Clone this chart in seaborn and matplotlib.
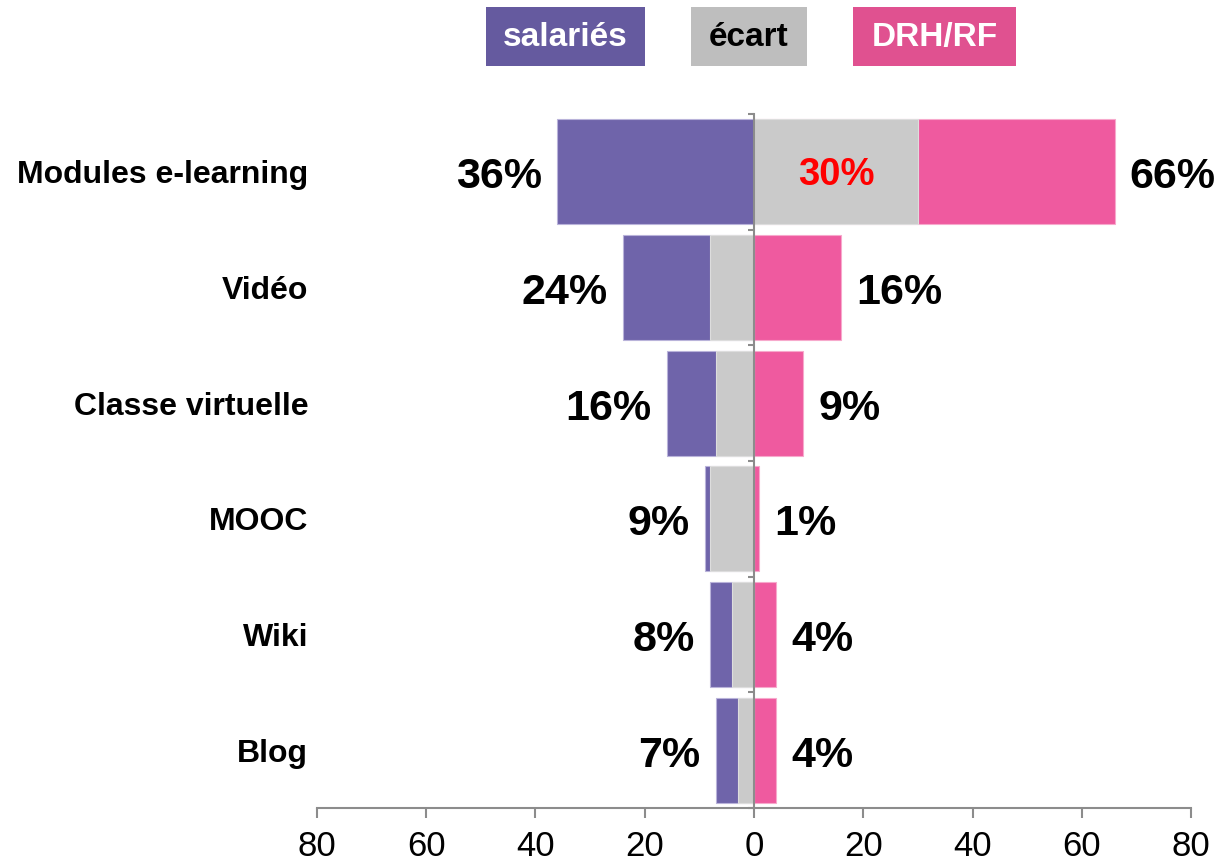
import numpy as np
import pandas as pd
import matplotlib
matplotlib.use("Agg")
import matplotlib.pyplot as plt
import matplotlib.transforms as mtransforms
from matplotlib.patches import Rectangle
import seaborn as sns

categories = ["Modules e-learning", "Vidéo", "Classe virtuelle", "MOOC", "Wiki", "Blog"]
salaries = [36, 24, 16, 9, 8, 7]
drh_rf = [66, 16, 9, 1, 4, 4]
ecart = [30, 8, 7, 8, 4, 3]
legend_labels = ["salariés", "écart", "DRH/RF"]
xtick_values = [-80, -60, -40, -20, 0, 20, 40, 60, 80]

PURPLE = "#6F64AA"
GREY = "#CACACA"
PINK = "#EF5A9F"
LEG_PURPLE = "#655A9F"
LEG_GREY = "#BEBEBE"
LEG_PINK = "#E05190"
AXIS_GREY = "#8C8C8C"

sns.set_theme(style="white")
plt.rcParams["font.family"] = ["Liberation Sans", "DejaVu Sans"]

df = pd.DataFrame({"cat": categories, "sal": salaries, "drh": drh_rf, "ecart": ecart})
df["sal_neg"] = -df["sal"]
# écart drawn on the side of the larger value
df["ecart_signed"] = np.where(df["drh"] > df["sal"], df["ecart"], -df["ecart"])

fig = plt.figure(figsize=(12.29, 8.67), dpi=100)
ax = fig.add_axes([0.2579, 0.0681, 0.7112, 0.8004])

bw = 0.91
sns.barplot(data=df, x="sal_neg", y="cat", color=PURPLE, width=bw, orient="h",
            ax=ax, saturation=1, edgecolor="#B9B3DA", linewidth=0.8)
sns.barplot(data=df, x="drh", y="cat", color=PINK, width=bw, orient="h",
            ax=ax, saturation=1, edgecolor="#F7A9CC", linewidth=0.8)
sns.barplot(data=df, x="ecart_signed", y="cat", color=GREY, width=bw, orient="h",
            ax=ax, saturation=1, edgecolor="#DDDDDD", linewidth=0.8)

ax.set_xlim(-80, 80)
ax.set_ylim(len(categories) - 0.5, -0.5)
ax.set_xlabel("")
ax.set_ylabel("")

# spines
for s in ["top", "right"]:
    ax.spines[s].set_visible(False)
ax.spines["bottom"].set_color(AXIS_GREY)
ax.spines["bottom"].set_linewidth(1.5)
ax.spines["left"].set_position(("data", 0))
ax.spines["left"].set_color(AXIS_GREY)
ax.spines["left"].set_linewidth(1.5)
ax.spines["left"].set_zorder(5)

ax.set_xticks(xtick_values)
ax.set_xticklabels([str(abs(v)) for v in xtick_values], fontsize=25, color="black")
ax.tick_params(axis="x", which="major", direction="out", length=7, width=1.5,
               color=AXIS_GREY, pad=9, bottom=True)

# y ticks at category boundaries, no labels
ax.set_yticks(np.arange(-0.5, len(categories) - 0.5 + 0.01, 1.0))
ax.set_yticklabels([])
ax.tick_params(axis="y", which="major", direction="out", length=4, width=1.5,
               color=AXIS_GREY, left=True)

# category labels at far left
trans = mtransforms.blended_transform_factory(ax.transAxes, ax.transData)
for i, c in enumerate(categories):
    ax.text(-0.010, i + 0.03, c, transform=trans, ha="right", va="center",
            fontsize=23, fontweight="bold", color="black")

# value labels
for i, row in df.iterrows():
    ax.annotate(f"{row['sal']}%", xy=(-row["sal"], i), xytext=(-11, -4),
                textcoords="offset points", ha="right", va="center",
                fontsize=31, fontweight="bold", color="black")
    ax.annotate(f"{row['drh']}%", xy=(row["drh"], i), xytext=(11, -4),
                textcoords="offset points", ha="left", va="center",
                fontsize=31, fontweight="bold", color="black")
    if row["ecart_signed"] > 0:
        ax.text(row["ecart_signed"] / 2, i + 0.03, f"{row['ecart']}%", ha="center",
                va="center", fontsize=27.5, fontweight="bold", color="#FF0000")

# legend boxes at top
boxes = [(0.3954, 0.1294, LEG_PURPLE, "white"),
         (0.5622, 0.0944, LEG_GREY, "black"),
         (0.6941, 0.1326, LEG_PINK, "white")]
for (x0, w, fc, tc), lab in zip(boxes, legend_labels):
    fig.patches.append(Rectangle((x0, 0.9239), w, 0.068, transform=fig.transFigure,
                                 facecolor=fc, edgecolor="none"))
    fig.text(x0 + w / 2, 0.9573, lab, ha="center", va="center", fontsize=24,
             fontweight="bold", color=tc)

fig.savefig("out.png", dpi=100)
